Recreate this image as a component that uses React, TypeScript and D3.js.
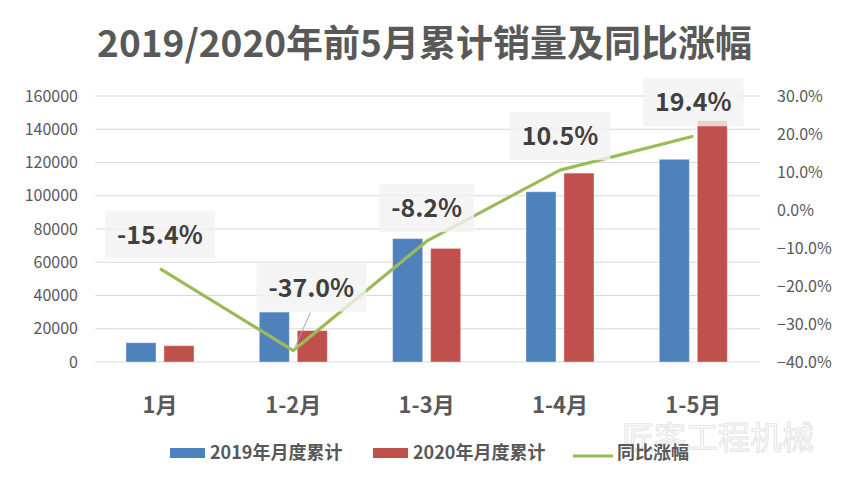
import { useEffect, useRef } from 'react';
import * as d3 from 'd3';

// chart data
const categories = ['1月', '1-2月', '1-3月', '1-4月', '1-5月'];
const series = ['2019年月度累计', '2020年月度累计'];
const sales2019 = [11600, 30000, 74200, 102400, 121900];
const sales2020 = [9800, 18900, 68300, 113600, 145200];
const yoy = [-0.154, -0.37, -0.082, 0.105, 0.194];
const yoyLabels = ['-15.4%', '-37.0%', '-8.2%', '10.5%', '19.4%'];
const leftTicks = [0, 20000, 40000, 60000, 80000, 100000, 120000, 140000, 160000];
const rightTicks = [-0.4, -0.3, -0.2, -0.1, 0, 0.1, 0.2, 0.3];

// label boxes were dragged around in the original, so offsets from the point
const labelOffsets = [
  [0, -34],
  [18, -63],
  [0, -33],
  [0, -34],
  [0, -34],
];

const W = 849;
const H = 478;
const FONT = '"Noto Sans CJK SC", "Noto Sans", sans-serif';
const colors = ['#4F81BD', '#C0504D'];
const lineColor = '#9BBB59';
const textColor = '#595959';

export default function App() {
  const svgRef = useRef<SVGSVGElement>(null);

  useEffect(() => {
    if (!svgRef.current) return;
    const svg = d3.select(svgRef.current);
    svg.selectAll('*').remove();

    const plot = { left: 93.3, right: 760, top: 96, bottom: 362 };

    const x = d3.scaleBand().domain(categories).range([plot.left, plot.right]);
    const x1 = d3.scaleBand().domain(series).range([-34, 34]).paddingInner(0.21);
    const y = d3.scaleLinear().domain([0, 160000]).range([plot.bottom, plot.top]);
    const y2 = d3.scaleLinear().domain([-0.4, 0.3]).range([plot.bottom, plot.top]);
    const cx = (c: string) => (x(c) || 0) + x.bandwidth() / 2;

    svg.append('rect').attr('width', W).attr('height', H).attr('fill', '#fff');

    // title
    svg.append('text')
      .attr('x', W / 2)
      .attr('y', 57)
      .attr('text-anchor', 'middle')
      .style('font-family', FONT)
      .style('font-size', '37px')
      .style('font-weight', 700)
      .attr('fill', textColor)
      .text('2019/2020年前5月累计销量及同比涨幅');

    // grid lines
    svg.append('g')
      .selectAll('line')
      .data(leftTicks)
      .join('line')
      .attr('x1', plot.left + 2)
      .attr('x2', plot.right)
      .attr('y1', d => y(d))
      .attr('y2', d => y(d))
      .attr('stroke', '#d9d9d9')
      .attr('stroke-width', 1);

    // left axis labels
    svg.append('g')
      .selectAll('text')
      .data(leftTicks)
      .join('text')
      .attr('x', 78)
      .attr('y', d => y(d))
      .attr('dy', '0.35em')
      .attr('text-anchor', 'end')
      .style('font-family', FONT)
      .style('font-size', '16px')
      .attr('fill', textColor)
      .text(d => String(d));

    // right axis labels
    svg.append('g')
      .selectAll('text')
      .data(rightTicks)
      .join('text')
      .attr('x', 777)
      .attr('y', d => y2(d))
      .attr('dy', '0.35em')
      .style('font-family', FONT)
      .style('font-size', '16px')
      .attr('fill', textColor)
      .text(d => d3.format('.1f')(d * 100) + '%');

    // category labels
    svg.append('g')
      .selectAll('text')
      .data(categories)
      .join('text')
      .attr('x', d => cx(d))
      .attr('y', 413)
      .attr('text-anchor', 'middle')
      .style('font-family', FONT)
      .style('font-size', '22px')
      .style('font-weight', 700)
      .attr('fill', textColor)
      .text(d => d);

    // watermark
    svg.append('text')
      .attr('x', 622)
      .attr('y', 449)
      .style('font-family', FONT)
      .style('font-size', '32px')
      .attr('fill', '#fff')
      .attr('stroke', '#e6e6e6')
      .attr('stroke-width', 1.1)
      .text('匠客工程机械');

    // bars
    const values = [sales2019, sales2020];
    series.forEach((s, si) => {
      svg.append('g')
        .selectAll('rect')
        .data(categories)
        .join('rect')
        .attr('x', d => cx(d) + (x1(s) || 0))
        .attr('width', x1.bandwidth())
        .attr('y', (_, i) => y(values[si][i]))
        .attr('height', (_, i) => plot.bottom - y(values[si][i]))
        .attr('fill', colors[si])
        .attr('stroke', '#ffffff')
        .attr('stroke-opacity', 0.35)
        .attr('stroke-width', 1);
    });

    // yoy line
    const line = d3.line<number>()
      .x((_, i) => cx(categories[i]))
      .y(d => y2(d));

    svg.append('path')
      .datum(yoy)
      .attr('d', line)
      .attr('fill', 'none')
      .attr('stroke', lineColor)
      .attr('stroke-width', 3.2)
      .attr('stroke-linejoin', 'round');

    // leader line for the moved label
    {
      const px = cx(categories[1]);
      const py = y2(yoy[1]);
      svg.append('line')
        .attr('x1', px + 2)
        .attr('y1', py - 4)
        .attr('x2', px + 17)
        .attr('y2', py + labelOffsets[1][1] + 25)
        .attr('stroke', '#a6a6a6')
        .attr('stroke-width', 1);
    }

    // data labels
    const labels = svg.append('g');
    yoy.forEach((v, i) => {
      const lx = cx(categories[i]) + labelOffsets[i][0];
      const ly = y2(v) + labelOffsets[i][1];
      const g = labels.append('g');
      const box = g.append('rect');
      const t = g.append('text')
        .attr('x', lx)
        .attr('y', ly)
        .attr('dy', '0.36em')
        .attr('text-anchor', 'middle')
        .style('font-family', FONT)
        .style('font-size', '25px')
        .style('font-weight', 700)
        .attr('fill', '#404040')
        .text(yoyLabels[i]);
      const tw = (t.node() as SVGTextElement).getComputedTextLength();
      box
        .attr('x', lx - tw / 2 - 12)
        .attr('y', ly - 24)
        .attr('width', tw + 24)
        .attr('height', 48)
        .attr('fill', '#f2f2f2')
        .attr('fill-opacity', 0.8);
    });

    // legend
    const legend = svg.append('g').attr('transform', 'translate(0,453)');
    const legendItems = [
      { x: 170, label: series[0], color: colors[0], kind: 'rect' },
      { x: 373, label: series[1], color: colors[1], kind: 'rect' },
      { x: 573, label: '同比涨幅', color: lineColor, kind: 'line' },
    ];
    legendItems.forEach(item => {
      if (item.kind === 'rect') {
        legend.append('rect')
          .attr('x', item.x)
          .attr('y', -5)
          .attr('width', 35)
          .attr('height', 10)
          .attr('fill', item.color);
      } else {
        legend.append('line')
          .attr('x1', item.x)
          .attr('x2', item.x + 40)
          .attr('y1', 3)
          .attr('y2', 3)
          .attr('stroke', item.color)
          .attr('stroke-width', 3);
      }
      legend.append('text')
        .attr('x', item.x + (item.kind === 'rect' ? 40 : 44))
        .attr('y', 0)
        .attr('dy', '0.36em')
        .style('font-family', FONT)
        .style('font-size', '18px')
        .style('font-weight', 700)
        .attr('fill', textColor)
        .text(item.label);
    });
  }, []);

  return (
    <svg
      ref={svgRef}
      width={W}
      height={H}
      style={{ position: 'absolute', left: 0, top: 0, display: 'block' }}
    />
  );
}
